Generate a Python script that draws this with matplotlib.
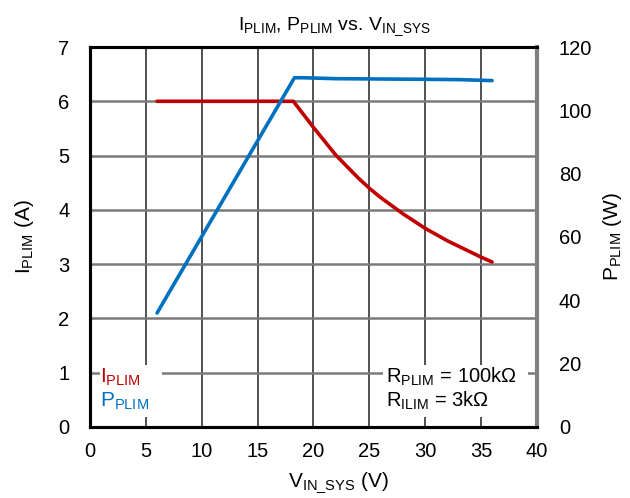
import matplotlib
matplotlib.use("Agg")
import matplotlib.pyplot as plt
from matplotlib.patches import Rectangle

plt.rcParams['font.family'] = ['Liberation Sans', 'DejaVu Sans']
plt.rcParams['mathtext.fontset'] = 'custom'
plt.rcParams['mathtext.rm'] = 'Liberation Sans'
plt.rcParams['mathtext.it'] = 'Liberation Sans'

RED = '#C00000'
BLUE = '#0070C0'

# input voltage sweep (V)
v_iplim = [6, 18.2, 20, 22, 24, 25, 26, 28, 30, 32, 34, 35, 36]
# current limit (A)
iplim = [6.0, 6.0, 5.52, 5.01, 4.59, 4.40, 4.23, 3.93, 3.66, 3.43, 3.23, 3.13, 3.04]

v_pplim = [6, 18.3, 19, 22, 26, 30, 33, 36]
# power limit (W)
pplim = [36, 110.3, 110.3, 110.0, 109.9, 109.8, 109.7, 109.4]

xticks = [0, 5, 10, 15, 20, 25, 30, 35, 40]
iticks = [0, 1, 2, 3, 4, 5, 6, 7]
pticks = [0, 20, 40, 60, 80, 100, 120]

fig = plt.figure(figsize=(6.3, 4.98), dpi=100)
ax = fig.add_axes([0.143, 0.1426, 0.709, 0.763])
ax2 = ax.twinx()

ax.set_xlim(0, 40)
ax.set_ylim(0, 7)
ax2.set_ylim(0, 120)
ax.set_xticks(xticks)
ax.set_yticks(iticks)
ax2.set_yticks(pticks)

for x in xticks[1:-1]:
    ax.axvline(x, color='#222222', lw=1.1, zorder=1)
for y in iticks[1:-1]:
    ax.axhline(y, color='#7a7a7a', lw=1.8, zorder=1)

ax.tick_params(axis='both', length=0, labelsize=14.5)
ax.tick_params(axis='x', pad=11)
ax.tick_params(axis='y', pad=15)
ax2.tick_params(axis='y', length=0, labelsize=14.5, pad=16)

for s in ['left', 'bottom', 'top']:
    ax.spines[s].set_linewidth(2.2)
    ax2.spines[s].set_linewidth(2.2)
ax2.spines['right'].set_color('#808080')
ax2.spines['right'].set_linewidth(3)
ax.spines['right'].set_visible(False)

ax.plot(v_iplim, iplim, color=RED, lw=2.6, zorder=3, solid_capstyle='round')
ax2.plot(v_pplim, pplim, color=BLUE, lw=2.6, zorder=3, solid_capstyle='round')

ax.set_title(r'I$_{\mathrm{PLIM}}$, P$_{\mathrm{PLIM}}$ vs. V$_{\mathrm{IN\_SYS}}$',
             fontsize=14, pad=12, x=0.548)
ax.set_xlabel(r'V$_{\mathrm{IN\_SYS}}$ (V)', fontsize=15, labelpad=5)
ax.xaxis.set_label_coords(0.555, -0.115)
ax.set_ylabel(r'I$_{\mathrm{PLIM}}$ (A)', fontsize=15, labelpad=16)
ax2.set_ylabel(r'P$_{\mathrm{PLIM}}$ (W)', fontsize=15, labelpad=6)

# white patches behind the legend and the resistor note
ax.add_patch(Rectangle((0.9, 0.18), 5.5, 0.96, facecolor='white',
                       edgecolor='none', zorder=4))
ax.add_patch(Rectangle((26.2, 0.18), 13.0, 0.96, facecolor='white',
                       edgecolor='none', zorder=4))

ax.text(0.9, 0.92, r'I$_{\mathrm{PLIM}}$', color=RED, fontsize=15, zorder=5,
        va='center', ha='left')
ax.text(0.9, 0.48, r'P$_{\mathrm{PLIM}}$', color=BLUE, fontsize=15, zorder=5,
        va='center', ha='left')

ax.text(26.5, 0.92, 'R$_{\\mathrm{PLIM}}$ = 100k\u03a9', fontsize=14.5,
        va='center', ha='left', zorder=5)
ax.text(26.5, 0.48, 'R$_{\\mathrm{ILIM}}$ = 3k\u03a9', fontsize=14.5,
        va='center', ha='left', zorder=5)

fig.savefig('out.png', dpi=100)
